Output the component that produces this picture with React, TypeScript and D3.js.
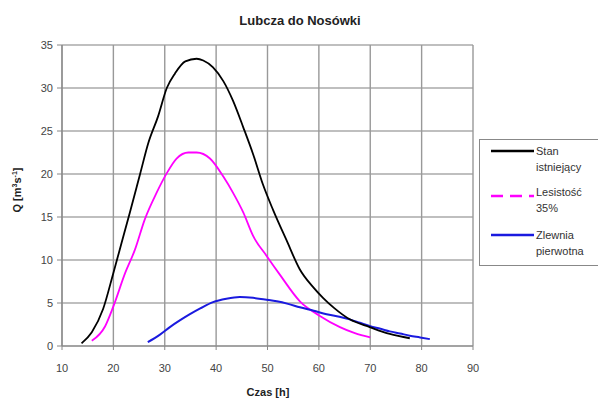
import React from "react";
import * as d3 from "d3";

const stanX = [13.8, 15.8, 18.0, 20.0, 21.6, 23.2, 25.2, 26.8, 28.7, 30.4, 32.0, 34.0, 36.2, 37.5, 39.4, 41.4, 43.3, 45.3, 47.2, 49.1, 51.1, 53.7, 56.3, 58.8, 60.8, 63.0, 66.0, 69.9, 73.8, 77.7];
const stanY = [0.3, 1.6, 4.3, 8.5, 12.0, 15.5, 20.0, 23.6, 26.7, 30.0, 31.7, 33.1, 33.4, 33.2, 32.4, 30.8, 28.5, 25.4, 22.3, 18.8, 15.8, 12.3, 8.9, 6.9, 5.6, 4.4, 3.1, 2.2, 1.4, 0.9];

const lesX = [15.8, 18.4, 20.0, 22.3, 24.2, 26.1, 28.4, 30.4, 32.3, 34.6, 36.2, 38.8, 41.4, 43.3, 45.3, 47.2, 49.8, 52.4, 56.3, 60.2, 64.1, 67.0, 70.0];
const lesY = [0.6, 2.3, 4.6, 8.5, 11.2, 14.7, 17.8, 20.1, 21.8, 22.5, 22.5, 21.8, 19.7, 17.8, 15.5, 12.8, 10.5, 8.3, 5.2, 3.5, 2.2, 1.5, 1.0];

const zlewX = [26.7, 29, 31, 33, 34.9, 37, 39.4, 42, 44.6, 47.2, 49.5, 51.8, 54, 56.3, 59, 61.5, 64, 66, 68, 70, 72, 73.8, 75.8, 77.7, 79.7, 81.6];
const zlewY = [0.45, 1.3, 2.2, 3.0, 3.7, 4.4, 5.1, 5.5, 5.7, 5.6, 5.4, 5.2, 4.9, 4.5, 4.1, 3.7, 3.4, 3.1, 2.7, 2.3, 2.0, 1.7, 1.45, 1.2, 1.0, 0.8];

const xTicks = [10, 20, 30, 40, 50, 60, 70, 80, 90];
const yTicks = [0, 5, 10, 15, 20, 25, 30, 35];

const seriesNames = ["Stan", "istniejący", "Lesistość", "35%", "Zlewnia", "pierwotna"];

export default function App() {
  const W = 598, H = 401;
  const x = d3.scaleLinear().domain([10, 90]).range([62, 473]);
  const y = d3.scaleLinear().domain([0, 35]).range([346, 45]);
  const line = d3.line<number>().curve(d3.curveMonotoneX);
  const mk = (xs: number[], ys: number[]) =>
    line.x((_, i) => x(xs[i])).y((_, i) => y(ys[i]))(xs) || "";
  const font = "Arial, 'Liberation Sans', sans-serif";

  return (
    <svg width={W} height={H} style={{ position: "absolute", left: 0, top: 0, background: "#fff" }} fontFamily={font}>
      <rect x={0} y={0} width={W} height={H} fill="#fff" />
      <text x={300} y={25} textAnchor="middle" fontSize={13} fontWeight="bold" fill="#222">Lubcza do Nosówki</text>
      {/* grid */}
      {yTicks.map((t) => (
        <line key={"hy" + t} x1={x(10)} x2={x(90)} y1={y(t)} y2={y(t)} stroke="#aaa" strokeWidth={1.6} />
      ))}
      {xTicks.map((t) => (
        <line key={"vx" + t} x1={x(t)} x2={x(t)} y1={y(0)} y2={y(35)} stroke="#999" strokeWidth={1.4} />
      ))}
      {/* axes */}
      <line x1={x(10)} x2={x(10)} y1={y(0)} y2={y(35)} stroke="#888" strokeWidth={1.2} />
      <line x1={x(10)} x2={x(90)} y1={y(0)} y2={y(0)} stroke="#888" strokeWidth={1.2} />
      {yTicks.map((t) => (
        <g key={"yt" + t}>
          <line x1={x(10) - 5} x2={x(10)} y1={y(t)} y2={y(t)} stroke="#888" />
          <text x={x(10) - 9} y={y(t) + 4} textAnchor="end" fontSize={11} fill="#444">{t}</text>
        </g>
      ))}
      {xTicks.map((t) => (
        <g key={"xt" + t}>
          <line x1={x(t)} x2={x(t)} y1={y(0)} y2={y(0) + 4} stroke="#888" />
          <text x={x(t)} y={372} textAnchor="middle" fontSize={11} fill="#444">{t}</text>
        </g>
      ))}
      <text x={268} y={396} textAnchor="middle" fontSize={11} fontWeight="bold" fill="#222">Czas [h]</text>
      <text transform="translate(21,190) rotate(-90)" textAnchor="middle" fontSize={11} fontWeight="bold" fill="#222">
        Q [m<tspan dy={-4} fontSize={7}>3</tspan><tspan dy={4}>s</tspan><tspan dy={-4} fontSize={7}>-1</tspan><tspan dy={4}>]</tspan>
      </text>
      {/* series */}
      <path d={mk(lesX, lesY)} fill="none" stroke="#ff00ff" strokeWidth={1.8} />
      <path d={mk(zlewX, zlewY)} fill="none" stroke="#1a1adf" strokeWidth={2} />
      <path d={mk(stanX, stanY)} fill="none" stroke="#000" strokeWidth={1.8} />
      {/* legend */}
      <rect x={479.5} y={139.5} width={130} height={126} fill="#fff" stroke="#888" strokeWidth={1} />
      <line x1={491} x2={534} y1={151} y2={151} stroke="#000" strokeWidth={2.5} />
      <line x1={491} x2={534} y1={196} y2={196} stroke="#ff00ff" strokeWidth={2.5} strokeDasharray="12,7" />
      <line x1={491} x2={534} y1={235} y2={235} stroke="#1a1adf" strokeWidth={2.5} />
      <text x={536} y={155} fontSize={11} fill="#333">{seriesNames[0]}</text>
      <text x={536} y={171} fontSize={11} fill="#333">{seriesNames[1]}</text>
      <text x={536} y={196} fontSize={11} fill="#333">{seriesNames[2]}</text>
      <text x={536} y={212} fontSize={11} fill="#333">{seriesNames[3]}</text>
      <text x={536} y={239} fontSize={11} fill="#333">{seriesNames[4]}</text>
      <text x={536} y={255} fontSize={11} fill="#333">{seriesNames[5]}</text>
    </svg>
  );
}
